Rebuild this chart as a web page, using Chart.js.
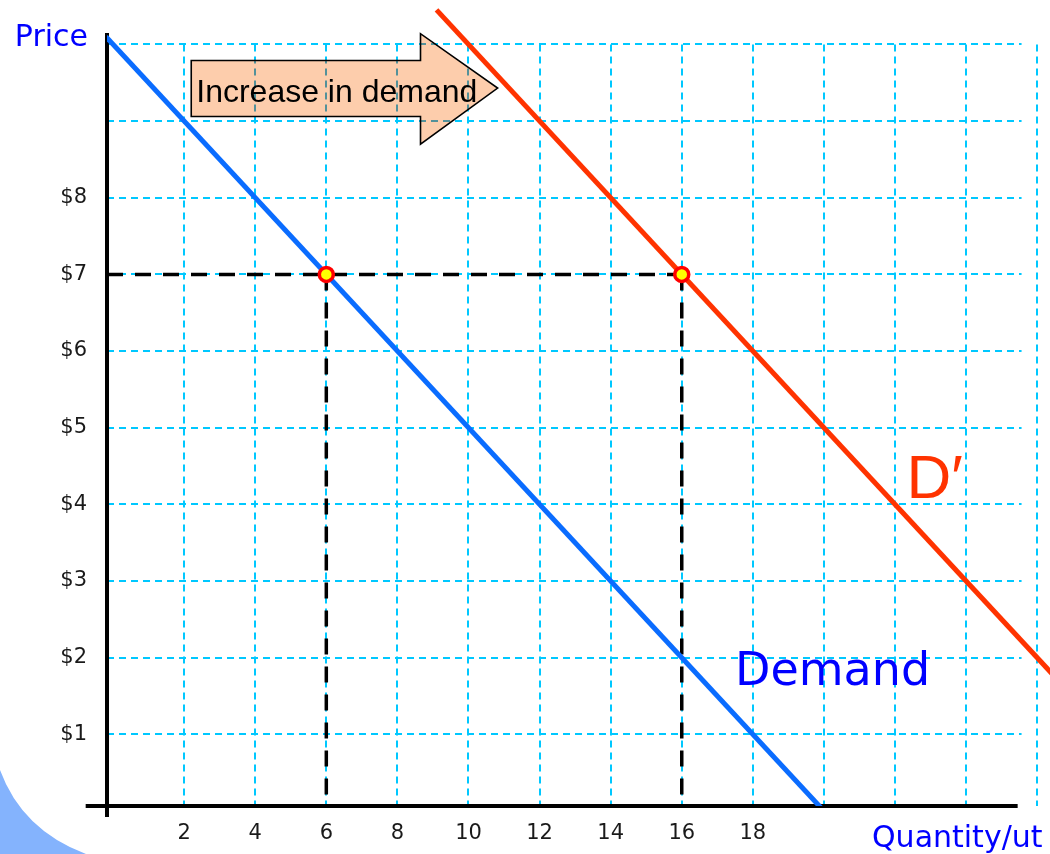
<!DOCTYPE html>
<html><head><meta charset="utf-8">
<script src="https://cdn.jsdelivr.net/npm/chart.js@4.4.1/dist/chart.umd.min.js"></script>
<style>html,body{margin:0;padding:0;background:#fff;overflow:hidden}canvas{display:block}</style>
</head><body>
<canvas id="c" width="1050" height="854"></canvas>
<script>
// ---- data ----
const quantityTickValues = [2, 4, 6, 8, 10, 12, 14, 16, 18];
const priceTickValues = [1, 2, 3, 4, 5, 6, 7, 8];
const gridQuantities = [2, 4, 6, 8, 10, 12, 14, 16, 18, 20, 22, 24, 26];
const gridPrices = [1, 2, 3, 4, 5, 6, 7, 8, 9, 10];
const demandQuantity = [-0.2, 20];
const demandPrice = [10.1, 0];
const newDemandQuantity = [9.1, 27];
const newDemandPrice = [10.45, 1.5];
const equilibriumQuantity = [6, 16];
const equilibriumPrice = [7, 7];

// ---- scale ranges ----
const X_MIN = -0.17, X_MAX = 26.36, Y_MIN = 0.065, Y_MAX = 10.475;

const toPoints = (xs, ys) => xs.map((v, i) => ({ x: v, y: ys[i] }));

const refLines = [
  [{ x: X_MIN, y: equilibriumPrice[0] }, { x: equilibriumQuantity[1], y: equilibriumPrice[1] }],
  [{ x: equilibriumQuantity[0], y: equilibriumPrice[0] }, { x: equilibriumQuantity[0], y: Y_MIN }],
  [{ x: equilibriumQuantity[1], y: equilibriumPrice[1] }, { x: equilibriumQuantity[1], y: Y_MIN }]
];

const arrowShape = { left: 2.2, shaftRight: 8.65, top: 9.79, bottom: 9.06, headTop: 10.14, headBottom: 8.70, tip: 10.82, tipP: 9.43 };

function drawGrid(ctx, x, y, color) {
  ctx.save();
  ctx.strokeStyle = color;
  ctx.lineWidth = 2;
  ctx.setLineDash([7, 5]);
  gridQuantities.forEach(q => {
    const px = Math.round(x.getPixelForValue(q));
    ctx.beginPath();
    ctx.moveTo(px, y.getPixelForValue(10));
    ctx.lineTo(px, y.getPixelForValue(Y_MIN));
    ctx.stroke();
  });
  gridPrices.forEach(p => {
    const py = Math.round(y.getPixelForValue(p));
    ctx.beginPath();
    ctx.moveTo(x.getPixelForValue(X_MIN), py);
    ctx.lineTo(x.getPixelForValue(25.56), py);
    ctx.stroke();
  });
  ctx.restore();
}

function arrowPath(x, y) {
  const a = arrowShape;
  const p = new Path2D();
  p.moveTo(x.getPixelForValue(a.left), y.getPixelForValue(a.top));
  p.lineTo(x.getPixelForValue(a.shaftRight), y.getPixelForValue(a.top));
  p.lineTo(x.getPixelForValue(a.shaftRight), y.getPixelForValue(a.headTop));
  p.lineTo(x.getPixelForValue(a.tip), y.getPixelForValue(a.tipP));
  p.lineTo(x.getPixelForValue(a.shaftRight), y.getPixelForValue(a.headBottom));
  p.lineTo(x.getPixelForValue(a.shaftRight), y.getPixelForValue(a.bottom));
  p.lineTo(x.getPixelForValue(a.left), y.getPixelForValue(a.bottom));
  p.closePath();
  return p;
}

const decor = {
  id: 'decor',
  beforeDraw(chart) {
    const ctx = chart.ctx;
    ctx.save();
    ctx.fillStyle = '#84b3fd';
    ctx.beginPath();
    ctx.moveTo(0, 770);
    ctx.quadraticCurveTo(22, 830, 86, 854);
    ctx.lineTo(0, 854);
    ctx.closePath();
    ctx.fill();
    ctx.restore();
  },
  beforeDatasetsDraw(chart) {
    const { ctx, scales: { x, y } } = chart;
    drawGrid(ctx, x, y, '#00c8ff');
    const path = arrowPath(x, y);
    ctx.save();
    ctx.fillStyle = '#fdcdac';
    ctx.fill(path);
    ctx.clip(path);
    drawGrid(ctx, x, y, 'rgba(40,130,150,0.8)');
    ctx.restore();
    ctx.save();
    ctx.lineWidth = 1.6;
    ctx.strokeStyle = '#000';
    ctx.stroke(path);
    ctx.fillStyle = '#000';
    ctx.font = '32px "Liberation Sans", Arial, sans-serif';
    ctx.textBaseline = 'alphabetic';
    ctx.textAlign = 'left';
    ctx.fillText('Increase in demand', x.getPixelForValue(arrowShape.left) + 5, y.getPixelForValue(arrowShape.bottom) - 14);
    ctx.restore();
    // axes
    ctx.save();
    ctx.strokeStyle = '#000';
    ctx.lineWidth = 4;
    const ax = x.getPixelForValue(X_MIN);
    ctx.beginPath();
    ctx.moveTo(ax, y.getPixelForValue(10.15));
    ctx.lineTo(ax, y.getPixelForValue(-0.08));
    ctx.stroke();
    const ay = y.getPixelForValue(Y_MIN);
    ctx.beginPath();
    ctx.moveTo(x.getPixelForValue(-0.77), ay);
    ctx.lineTo(x.getPixelForValue(25.45), ay);
    ctx.stroke();
    ctx.restore();
  },
  afterDatasetsDraw(chart) {
    const { ctx, scales: { x, y } } = chart;
    ctx.save();
    ctx.textBaseline = 'alphabetic';
    ctx.fillStyle = '#0000ff';
    ctx.font = '30px "DejaVu Sans", sans-serif';
    ctx.textAlign = 'right';
    ctx.fillText('Price', x.getPixelForValue(X_MIN) - 19, y.getPixelForValue(10) + 2);
    ctx.textAlign = 'left';
    ctx.fillText('Quantity/ut', 872, y.getPixelForValue(Y_MIN) + 41);
    ctx.font = '46px "DejaVu Sans", sans-serif';
    ctx.fillText('Demand', x.getPixelForValue(17.5), y.getPixelForValue(1.64));
    ctx.fillStyle = '#ff3300';
    ctx.font = '62px "Liberation Sans", "DejaVu Sans", sans-serif';
    ctx.fillText('D\u2032', x.getPixelForValue(22.32), y.getPixelForValue(4.08));
    ctx.restore();
  }
};

const tickFont = { family: '"DejaVu Sans", sans-serif', size: 21 };

new Chart(document.getElementById('c'), {
  type: 'scatter',
  data: {
    datasets: [
      {
        data: toPoints(equilibriumQuantity, equilibriumPrice),
        showLine: false,
        pointRadius: 7,
        pointBorderWidth: 3.5,
        pointBackgroundColor: '#ffff00',
        pointBorderColor: '#ff0000'
      },
      {
        data: toPoints(demandQuantity, demandPrice),
        showLine: true, borderColor: '#0a6cff', borderWidth: 5, pointRadius: 0
      },
      {
        data: toPoints(newDemandQuantity, newDemandPrice),
        showLine: true, borderColor: '#ff3300', borderWidth: 5, pointRadius: 0
      },
      ...refLines.map(seg => ({
        data: seg, showLine: true, borderColor: '#000', borderWidth: 3.5,
        borderDash: [16, 12], pointRadius: 0
      }))
    ]
  },
  options: {
    responsive: false,
    devicePixelRatio: 1,
    animation: false,
    layout: { autoPadding: false, padding: { top: 8, right: 0, left: 0, bottom: 0 } },
    plugins: { legend: { display: false }, tooltip: { enabled: false } },
    scales: {
      x: {
        type: 'linear', position: 'bottom', min: X_MIN, max: X_MAX,
        grid: { display: false, drawTicks: false }, border: { display: false },
        afterBuildTicks: s => { s.ticks = quantityTickValues.map(v => ({ value: v })); },
        afterFit: s => { s.height = 48; s.paddingLeft = 0; s.paddingRight = 0; },
        ticks: { autoSkip: false, maxRotation: 0, padding: 15, color: '#1a1a1a', font: tickFont, callback: v => String(v) }
      },
      y: {
        type: 'linear', position: 'left', min: Y_MIN, max: Y_MAX,
        grid: { display: false, drawTicks: false }, border: { display: false },
        afterBuildTicks: s => { s.ticks = priceTickValues.map(v => ({ value: v })); },
        afterFit: s => { s.width = 107; s.paddingTop = 0; s.paddingBottom = 0; },
        ticks: { autoSkip: false, padding: 20, color: '#1a1a1a', font: tickFont, callback: v => '$' + v }
      }
    }
  },
  plugins: [decor]
});
</script>
</body></html>
